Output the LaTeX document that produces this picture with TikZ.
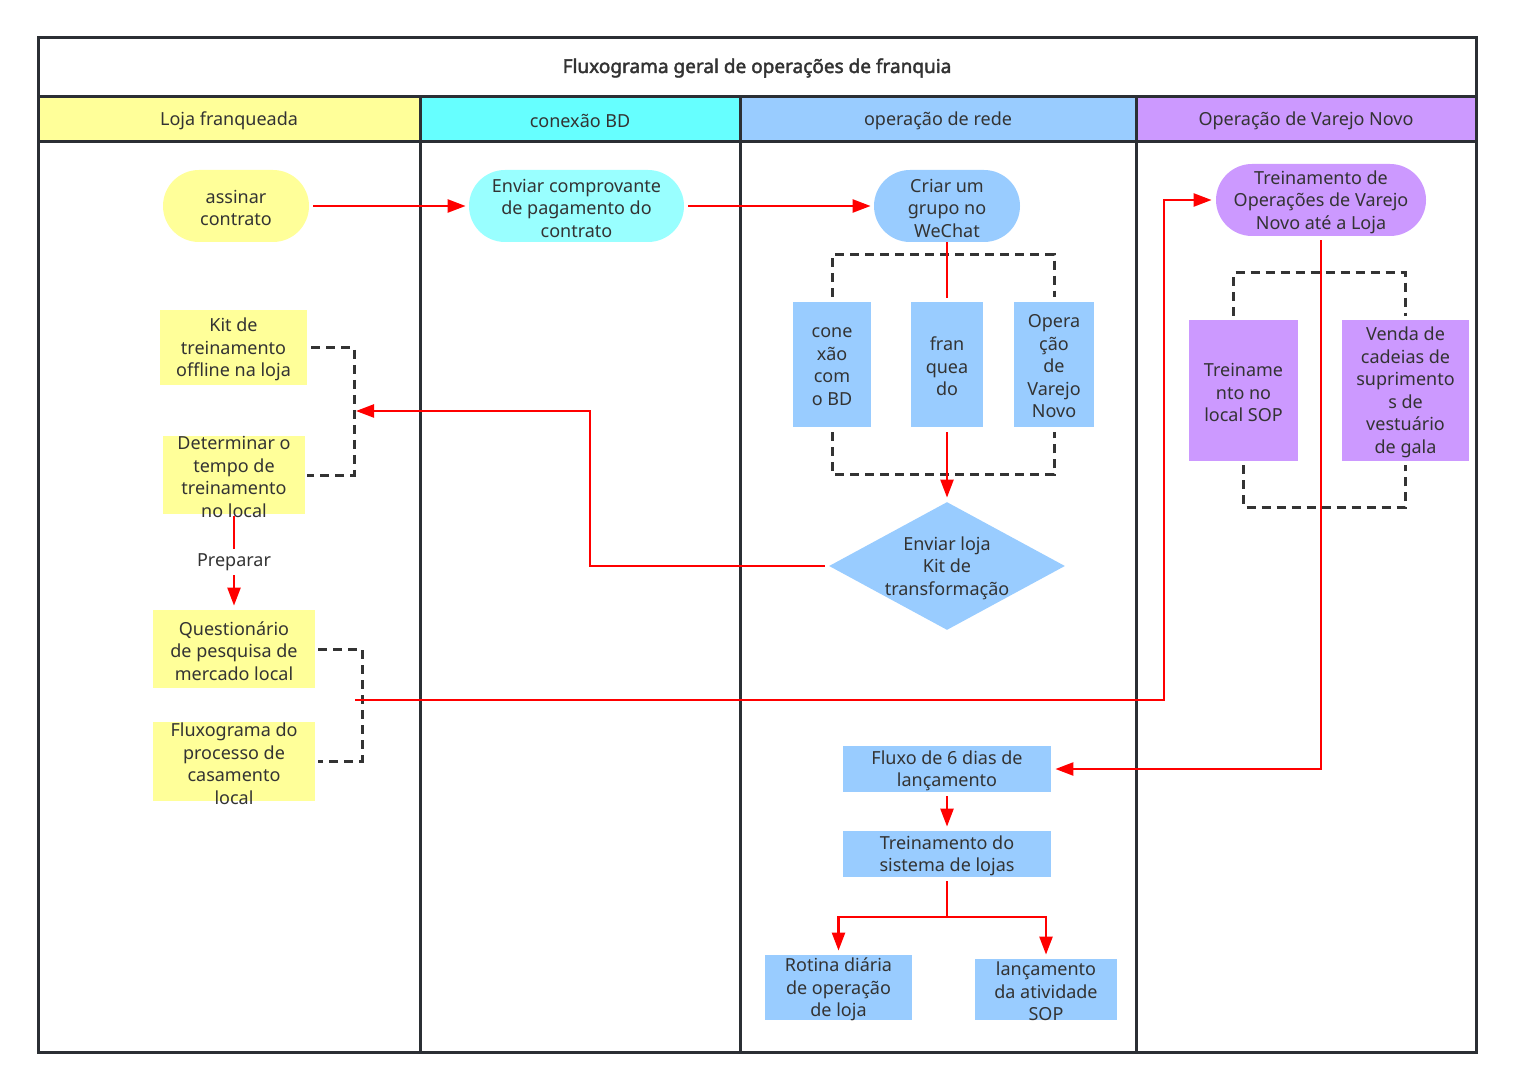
\documentclass[tikz,border=0pt]{standalone}
\usepackage{fontspec}
\setmainfont{Noto Sans}[AutoFakeBold=2.2]
\usetikzlibrary{arrows.meta,positioning,shapes.geometric,calc}
\definecolor{frame}{RGB}{43,47,52}
\definecolor{ink}{RGB}{51,51,51}
\definecolor{lemon}{RGB}{255,255,153}
\definecolor{aqua}{RGB}{102,255,255}
\definecolor{aqualt}{RGB}{153,255,255}
\definecolor{sky}{RGB}{153,204,255}
\definecolor{lilac}{RGB}{204,153,255}

\begin{document}
\begin{tikzpicture}[x=0.5pt,y=-0.5pt,
    font=\fontsize{9}{11.25}\selectfont,text=ink,
    box/.style={inner sep=0pt,align=center},
    flow/.style={draw=red,line width=1.2pt,-{Triangle[length=9pt,width=6.5pt]}},
    link/.style={draw=red,line width=1.2pt},
    grp/.style={draw=ink,line width=1.5pt,dash pattern=on 4.5pt off 3pt}]
  \useasboundingbox (0,0) rectangle (1513,1090);

  % pool and lanes
  \node[font=\fontsize{9.5}{11}\selectfont\bfseries] (title) at (757,68) {Fluxograma geral de operações de franquia};
  \foreach \xa/\xb/\c/\t [count=\i] in {
    38/420/lemon/Loja franqueada,
    420/740/aqua/conexão BD,
    740/1136/sky/operação de rede,
    1136/1476/lilac/Operação de Varejo Novo}
  {
    \fill[\c] (\xa,97) rectangle (\xb,142);
    \node (lane\i) at ({(\xa+\xb)/2},121) {\t};
    \draw[frame,line width=1.5pt] (\xa,97) -- (\xa,1052);
  }
  \draw[frame,line width=1.5pt] (38,38) rectangle (1476,1052);
  \draw[frame,line width=1.5pt] (38,97) -- (1476,97) (38,142) -- (1476,142);

  % rounded steps
  \foreach \n/\x/\y/\w/\c/\t in {
    assinar/236/206/146/lemon/assinar\\contrato,
    enviar/576.5/206/215/aqualt/Enviar comprovante\\de pagamento do\\contrato,
    grupo/947/206/146/sky/Criar um\\grupo no\\WeChat,
    treinop/1321/200/210/lilac/Treinamento de\\Operações de Varejo\\Novo até a Loja}
  {
    \node[box,fill=\c,rounded corners=18pt,minimum width=\w*0.5pt,minimum height=36pt] (\n) at (\x,\y) {};
    \node[box] (\n-t) at ([yshift=-1pt]\n) {\t};
  }

  % plain steps
  \foreach \n/\x/\y/\w/\h/\c/\t in {
    kitoff/233.5/347.5/147/75/lemon/Kit de\\treinamento\\offline na loja,
    tempo/234/475/142/78/lemon/Determinar o\\tempo de\\treinamento\\no local,
    quest/234/649/162/78/lemon/Questionário\\de pesquisa de\\mercado local,
    casam/234/761.5/162/79/lemon/Fluxograma do\\processo de\\casamento\\local,
    conx/832/364.5/78/125/sky/cone\\xão\\com\\o BD,
    franq/947/364.5/72/125/sky/fran\\quea\\do,
    opv/1054/364.5/80/125/sky/Opera\\ção\\de\\Varejo\\Novo,
    sop/1243.5/390.5/109/141/lilac/Treiname\\nto no\\local SOP,
    venda/1405.5/390.5/127/141/lilac/Venda de\\cadeias de\\suprimento\\s de\\vestuário\\de gala,
    fluxo/947/769/208/46/sky/Fluxo de 6 dias de\\lançamento,
    sistema/947/854/208/46/sky/Treinamento do\\sistema de lojas,
    rotina/838.5/987.5/147/65/sky/Rotina diária\\de operação\\de loja,
    lanc/1046/989.5/142/61/sky/lançamento\\da atividade\\SOP}
  {
    \node[box,fill=\c,minimum width=\w*0.5pt,minimum height=\h*0.5pt] (\n) at (\x,\y) {};
    \node[box] (\n-t) at ([yshift=-1pt]\n) {\t};
  }

  \node[diamond,fill=sky,inner sep=0pt,minimum width=118pt,minimum height=64pt] (kitT) at (947,566) {};
  \node[box] (kitT-t) at ([yshift=-1pt]kitT) {Enviar loja\\Kit de\\transformação};

  % dashed groups
  \coordinate (jkit) at (354,411);
  \coordinate (jmkt) at (362,700);
  \coordinate (bend1) at (590,411);
  \coordinate (bend2) at (1164,200);
  \coordinate (jsplit) at (947,917);
  \draw[grp] ([xshift=2pt]kitoff.east) -| (jkit) |- ([xshift=1pt]tempo.east);
  \draw[grp] ([xshift=1.5pt]quest.east) -| (jmkt) |- ([xshift=1.5pt]casam.east);
  \draw[grp] ([yshift=2.5pt]conx.north) |- ([yshift=23.5pt]opv.north) -- ([yshift=2.5pt]opv.north);
  \draw[grp] ([yshift=-2.5pt]conx.south) |- ([yshift=-23.5pt]opv.south) -- ([yshift=-2.5pt]opv.south);
  \draw[grp] ([xshift=-5pt,yshift=2pt]sop.north) |- ([yshift=23.5pt]venda.north) -- ([yshift=2pt]venda.north);
  \draw[grp] ([yshift=-2pt]sop.south) |- ([yshift=-23pt]venda.south) -- ([yshift=-2pt]venda.south);

  % flow
  \draw[flow,shorten <=2pt,shorten >=1.5pt] (assinar) -- (enviar);
  \draw[flow,shorten <=2pt,shorten >=1.5pt] (enviar) -- (grupo);
  \draw[link] (grupo) -- ([yshift=2pt]franq.north);
  \draw[flow,shorten <=2.5pt,shorten >=2pt] (franq) -- (kitT);
  \draw[flow,shorten <=2pt,shorten >=1pt] (kitT.west) -| (bend1) -- (jkit);
  \draw[flow,shorten <=1pt,shorten >=2pt] (tempo) -- node[fill=white,inner sep=2pt] (prep) {Preparar} (quest);
  \draw[flow,shorten >=2pt] ([xshift=-3.5pt]jmkt) -| (bend2) -- (treinop.west);
  \draw[flow,shorten <=2pt,shorten >=2pt] (treinop.south) |- (fluxo.east);
  \draw[flow,shorten <=2pt,shorten >=2pt] (fluxo) -- (sistema);
  \draw[link,shorten <=2pt] (sistema) -- (jsplit);
  \draw[flow,shorten >=2pt] (jsplit) -| (rotina);
  \draw[flow,shorten >=2pt] (jsplit) -| (lanc);
\end{tikzpicture}
\end{document}
